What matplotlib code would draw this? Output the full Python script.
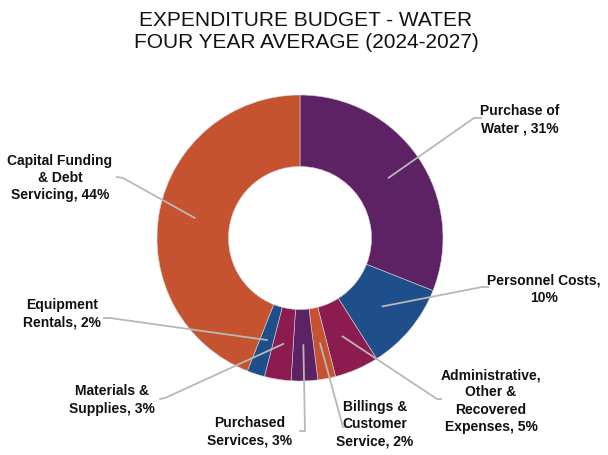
import matplotlib.pyplot as plt
import numpy as np

# Water expenditure budget shares, four year average
categories = ['Purchase of\nWater , 31%', 'Personnel Costs,\n10%',
              'Administrative,\nOther &\nRecovered\nExpenses, 5%',
              'Billings &\nCustomer\nService, 2%', 'Purchased\nServices, 3%',
              'Materials &\nSupplies, 3%', 'Equipment\nRentals, 2%',
              'Capital Funding\n& Debt\nServicing, 44%']
shares = [31, 10, 5, 2, 3, 3, 2, 44]
colors = ['#5c2264', '#1f4f8a', '#8c1b50', '#c6532f',
          '#5c2264', '#8c1b50', '#1f4f8a', '#c6532f']

W, H = 608, 455
CX, CY, R = 300, H - 238, 143

# label centre, elbow of the leader line, and end of its short tick (pixel coords, y down)
label_pos = [(520, 120), (544, 289), (491, 401), (375, 424),
             (250, 432), (112, 400), (62, 314), (60, 178)]
elbows = [(474, 118), (482, 287), (437, 399), (343, 427),
          (305, 431), (165, 398), (110, 318), (123, 178)]
ticks = [(481, 118), (488, 287), (441, 399), (349, 427),
         (300, 431), (160, 399), (104, 318), (117, 177)]

plt.rcParams['font.family'] = ['Liberation Sans', 'DejaVu Sans']

fig = plt.figure(figsize=(W / 100, H / 100), dpi=100)
ax = fig.add_axes([0, 0, 1, 1])

wedges, _ = ax.pie(shares, colors=colors, radius=R, center=(CX, CY),
                   startangle=90, counterclock=False,
                   wedgeprops=dict(width=R * 0.5, edgecolor='#d8d0dc', linewidth=0.4))

# pie() resets the limits around its centre, so set pixel limits afterwards
ax.set_xlim(0, W)
ax.set_ylim(0, H)
ax.set_aspect('equal')
ax.axis('off')

for w, lab, (tx, ty), (ex, ey), (kx, ky) in zip(wedges, categories, label_pos, elbows, ticks):
    mid = np.deg2rad((w.theta1 + w.theta2) / 2)
    sx = CX + 0.75 * R * np.cos(mid)
    sy = CY + 0.75 * R * np.sin(mid)
    ax.plot([sx, ex, kx], [sy, H - ey, H - ky], color='#b8b8b8', lw=1.3,
            solid_joinstyle='round')
    ax.text(tx, H - ty, lab, ha='center', va='center', fontsize=10,
            fontweight='bold', linespacing=1.3, color='#111111')

ax.text(306, H - 32, 'EXPENDITURE BUDGET - WATER\nFOUR YEAR AVERAGE (2024-2027)',
        ha='center', va='center', fontsize=15, linespacing=1.2, color='#111111')

fig.savefig('out.png', dpi=100)
